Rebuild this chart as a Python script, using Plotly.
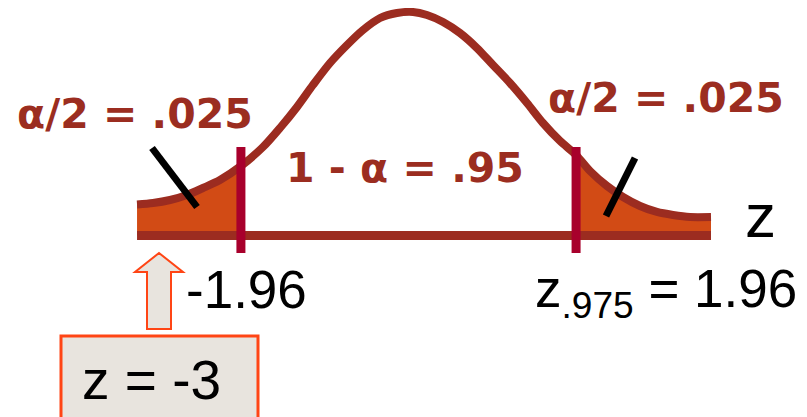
import plotly.graph_objects as go

# ---- data ----
z_curve = [-3.175, -2.988, -2.789, -2.591, -2.404, -2.205, -1.96, -1.702, -1.503, -1.304,
           -1.117, -0.918, -0.719, -0.532, -0.333, -0.135, 0.053, 0.216, 0.404, 0.602,
           0.801, 0.988, 1.187, 1.386, 1.573, 1.772, 1.96, 2.123, 2.322, 2.509,
           2.708, 2.906, 3.094, 3.292, 3.538]
density = [0.0554, 0.0580, 0.0634, 0.0723, 0.0848, 0.0991, 0.1241, 0.1580, 0.1920, 0.2295,
           0.2688, 0.3080, 0.3402, 0.3670, 0.3884, 0.3973, 0.3991, 0.3938, 0.3813, 0.3616,
           0.3348, 0.3045, 0.2723, 0.2366, 0.2009, 0.1688, 0.1438, 0.1152, 0.0884, 0.0688,
           0.0527, 0.0420, 0.0366, 0.0330, 0.0330]
z_crit = [-1.96, 1.96]
z_marked = -3
tail_label = "α/2 = .025"
center_label = "1 - α = .95"
left_crit_label = "-1.96"
right_crit_label = "z<sub>.975</sub> = 1.96"
axis_label = "z"
marked_label = "z = -3"

# ---- layout helpers (page pixel -> data position for decorations) ----
W, H = 807, 417
OFF = 8                   # default page margin around the figure
Z0, ZS = 408.5, 85.5      # page pixel of z=0, pixels per z unit
B0, DS = 235.5, 560.0     # page pixel of density 0, pixels per density unit


def X(px):
    return (px - Z0) / ZS


def Y(py):
    return (B0 - py) / DS


CURVE = "#9C2C20"
FILL = "#D24B15"
CRIT = "#A8002C"
TEXTRED = "#9B2D20"
ORANGE = "#FF4515"
BOXFILL = "#E8E4DE"

fig = go.Figure()

# shaded tails
left_x = [z for z in z_curve if z <= z_crit[0]]
left_y = [d for z, d in zip(z_curve, density) if z <= z_crit[0]]
right_x = [z for z in z_curve if z >= z_crit[1]]
right_y = [d for z, d in zip(z_curve, density) if z >= z_crit[1]]
for xs, ys in [(left_x, left_y), (right_x, right_y)]:
    fig.add_trace(go.Scatter(x=xs, y=ys, mode="lines", fill="tozeroy",
                             fillcolor=FILL, line=dict(width=0, shape="spline"),
                             hoverinfo="skip", showlegend=False))

# baseline
fig.add_trace(go.Scatter(x=[z_curve[0], z_curve[-1]], y=[0, 0], mode="lines",
                         line=dict(color=CURVE, width=9), hoverinfo="skip", showlegend=False))

# density curve
fig.add_trace(go.Scatter(x=z_curve, y=density, mode="lines",
                         line=dict(color=CURVE, width=8, shape="spline", smoothing=0.8),
                         hoverinfo="skip", showlegend=False))

shapes = []
# critical value lines
for zc in z_crit:
    shapes.append(dict(type="line", xref="x", yref="y", x0=zc, x1=zc,
                       y0=Y(147), y1=Y(253), line=dict(color=CRIT, width=9)))
# pointer slashes
shapes.append(dict(type="line", xref="x", yref="y", x0=X(152), y0=Y(148), x1=X(197), y1=Y(207),
                   line=dict(color="black", width=7)))
shapes.append(dict(type="line", xref="x", yref="y", x0=X(635), y0=Y(158), x1=X(606), y1=Y(216),
                   line=dict(color="black", width=7)))
# box for z = -3
shapes.append(dict(type="rect", xref="x", yref="y", x0=X(61), x1=X(258), y0=Y(336), y1=Y(425),
                   fillcolor=BOXFILL, line=dict(color=ORANGE, width=3)))
# block arrow pointing up at the z = -3 position
pts = [(159, 253), (183, 272), (171, 272), (171, 329), (147, 329), (147, 272), (135, 272)]
path = "M " + " L ".join(f"{X(px)},{Y(py)}" for px, py in pts) + " Z"
shapes.append(dict(type="path", xref="x", yref="y", path=path,
                   fillcolor=BOXFILL, line=dict(color=ORANGE, width=2)))

bold = dict(family="DejaVu Sans", size=41, color=TEXTRED, weight="bold")
plain = dict(family="Liberation Sans", size=53, color="black")

annotations = [
    dict(x=X(135), y=Y(114), text=f"<b>{tail_label}</b>", font=bold),
    dict(x=X(666), y=Y(98), text=f"<b>{tail_label}</b>", font=bold),
    dict(x=X(405), y=Y(168), text=f"<b>{center_label}</b>", font=bold),
    dict(x=X(246.5), y=Y(289), text=left_crit_label, font=plain),
    dict(x=X(666), y=Y(292), text=right_crit_label, font=plain),
    dict(x=X(760), y=Y(215), text=axis_label, font=dict(family="Liberation Sans", size=62, color="black")),
    dict(x=X(151), y=Y(380), text=marked_label, font=dict(family="Liberation Sans", size=55, color="black")),
]
for a in annotations:
    a.update(xref="x", yref="y", showarrow=False, xanchor="center", yanchor="middle", borderpad=0)

fig.update_layout(
    width=W - OFF, height=H - OFF, autosize=False,
    margin=dict(l=0, r=0, t=0, b=0),
    paper_bgcolor="white", plot_bgcolor="white",
    xaxis=dict(range=[X(OFF), X(W)], visible=False, fixedrange=True),
    yaxis=dict(range=[Y(H), Y(OFF)], visible=False, fixedrange=True),
    shapes=shapes, annotations=annotations, showlegend=False,
)

fig.write_html("out.html")
